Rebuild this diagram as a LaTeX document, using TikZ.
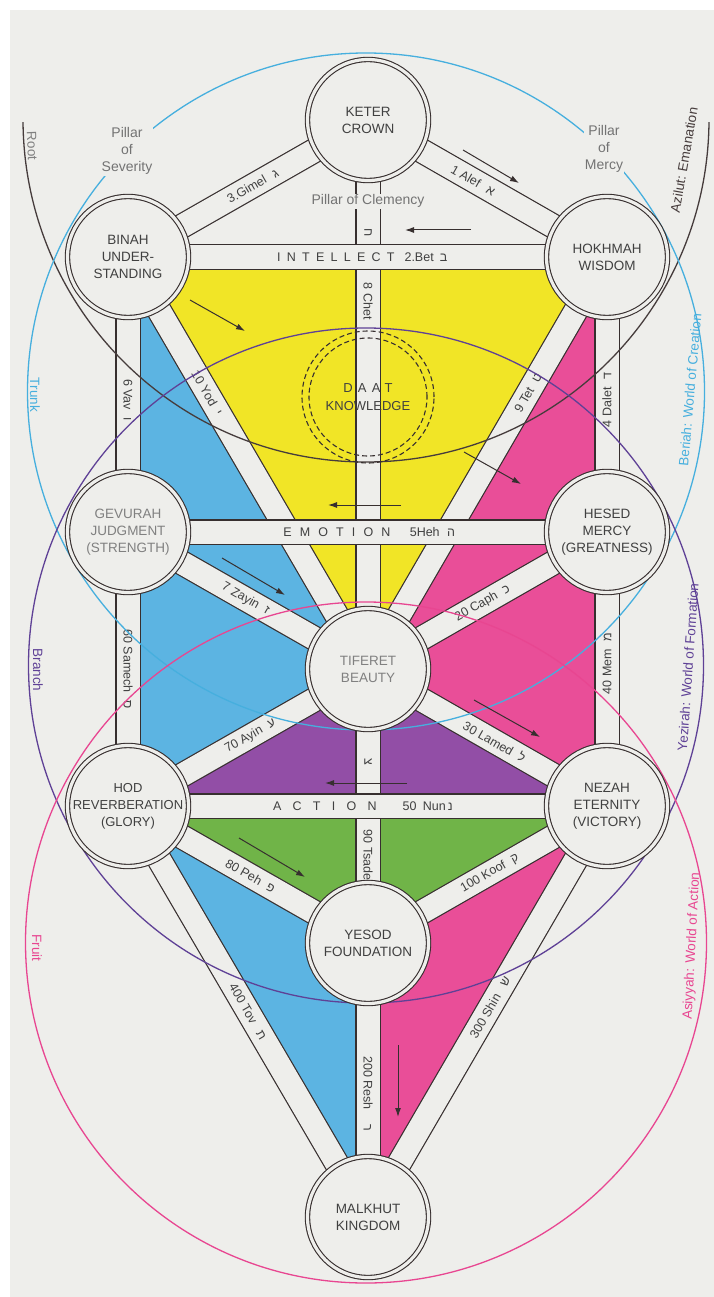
\documentclass[tikz,border=0pt]{standalone}
\usepackage{fontspec}
\setmainfont{Liberation Sans}
\usetikzlibrary{arrows.meta}
\TeXXeTstate=1
\definecolor{treeink}{RGB}{55,47,47}
\definecolor{treepaper}{RGB}{238,238,235}
\definecolor{treeyellow}{RGB}{241,229,38}
\definecolor{treeblue}{RGB}{92,180,226}
\definecolor{treepink}{RGB}{233,78,152}
\definecolor{treepurple}{RGB}{146,78,166}
\definecolor{treegreen}{RGB}{112,180,72}
\definecolor{worldroot}{RGB}{70,60,60}
\definecolor{worldblue}{RGB}{70,175,222}
\definecolor{worldpurple}{RGB}{95,65,150}
\definecolor{worldpink}{RGB}{232,70,145}
\pgfdeclarelayer{paper}
\pgfdeclarelayer{fills}
\pgfdeclarelayer{paths}
\pgfdeclarelayer{worlds}
\pgfsetlayers{paper,fills,paths,worlds,main}
\newcommand\heb[1]{\beginR#1\endR}
\tikzset{
  sefira/.style={circle,draw=treeink,line width=1.1pt,double=treepaper,double distance=3.2pt,
                 fill=treepaper,minimum size=121pt,inner sep=0pt,align=center,
                 font=\fontsize{13.5}{17}\selectfont,text=black!75},
  daatring/.style={draw=treeink,line width=1.1pt,dash pattern=on 5pt off 3pt},
  channel/.style={draw=treeink,line width=1.2pt,double=treepaper,double distance=23pt},
  chlabel/.style={font=\fontsize{12.5}{14}\selectfont,text=black!75,inner sep=1pt},
  pillar/.style={font=\fontsize{14}{17}\selectfont,text=black!55,align=center,inner sep=1pt},
  world/.style={line width=1.3pt},
  worldlabel/.style={font=\fontsize{13.5}{16}\selectfont},
  flowarr/.style={-{Latex[length=9pt,width=6pt]},line width=1pt,draw=treeink},
}
\begin{document}
\begin{tikzpicture}[x=1pt,y=-1pt]
\useasboundingbox (0,0) rectangle (714,1297);
\begin{pgfonlayer}{paper}
\fill[white] (0,0) rectangle (714,1297);
\fill[treepaper] (10,10) rectangle (714,1297);
\end{pgfonlayer}
% --- sefirot ---
\node[sefira] (keter) at (368,120) {KETER\\CROWN};
\node[sefira] (hokhmah) at (607,257) {HOKHMAH\\WISDOM};
\node[sefira] (binah) at (128,257) {BINAH\\UNDER-\\STANDING};
\node[sefira] (hesed) at (607,532) {HESED\\MERCY\\(GREATNESS)};
\node[sefira,text=black!50] (gevurah) at (128,532) {GEVURAH\\JUDGMENT\\(STRENGTH)};
\node[sefira,text=black!50] (tiferet) at (368,669) {TIFERET\\BEAUTY};
\node[sefira] (nezah) at (607,806) {NEZAH\\ETERNITY\\(VICTORY)};
\node[sefira,font=\fontsize{13}{17}\selectfont] (hod) at (128,806) {HOD\\REVERBERATION\\(GLORY)};
\node[sefira] (yesod) at (368,943) {YESOD\\FOUNDATION};
\node[sefira] (malkhut) at (368,1217) {MALKHUT\\KINGDOM};
\node[circle,daatring,minimum size=132pt,inner sep=0pt,align=center,
      font=\fontsize{13}{18}\selectfont,text=black!75] (daat) at (368,397)
 {{\addfontfeature{LetterSpace=40}DAAT}\\KNOWLEDGE};
\draw[daatring] (daat.center) circle[radius=59pt];
% pillars
\node[pillar,fill=treepaper] (severity) at (127,151) {Pillar\\of\\Severity};
\node[pillar,fill=treepaper] (mercy) at (604,149) {Pillar\\of\\Mercy};
% colour fields
\begin{pgfonlayer}{fills}
\fill[treeyellow] (binah.center) -- (hokhmah.center) -- (tiferet.center) -- cycle;
\fill[treeblue] (binah.center) -- (tiferet.center) -- (hod.center) -- cycle;
\fill[treepink] (hokhmah.center) -- (tiferet.center) -- (nezah.center) -- cycle;
\fill[treepurple] (tiferet.center) -- (hod.center) -- (nezah.center) -- cycle;
\fill[treegreen] (hod.center) -- (nezah.center) -- (yesod.center) -- cycle;
\fill[treeblue] (hod.center) -- (yesod.center) -- (malkhut.center) -- cycle;
\fill[treepink] (nezah.center) -- (yesod.center) -- (malkhut.center) -- cycle;
\end{pgfonlayer}
% 22 paths
\begin{pgfonlayer}{paths}
\draw[channel] (keter.center) -- node[chlabel,sloped,pos=.44]{1 Alef\hspace{.7em}\heb{א}} (hokhmah.center);
\draw[channel] (binah.center) -- node[chlabel,sloped,pos=.52]{3.Gimel\hspace{.7em}\heb{ג}} (keter.center);
\draw[channel] (keter.center) -- node[pillar,fill=treepaper,pos=.148]{Pillar of Clemency}
  node[chlabel,pos=.206,rotate=-90]{\heb{ח}} node[chlabel,pos=.33,rotate=-90]{8 Chet} (tiferet.center);
\draw[channel] (hokhmah.center) -- node[chlabel,pos=.52,rotate=90]{4 Dalet\hspace{.6em}\heb{ד}} (hesed.center);
\draw[channel] (binah.center) -- node[chlabel,pos=.52,rotate=-90]{6 Vav\hspace{.6em}\heb{ו}} (gevurah.center);
\draw[channel] (gevurah.center) -- node[chlabel,sloped,pos=.49]{7 Zayin\hspace{.6em}\heb{ז}} (tiferet.center);
\draw[channel] (tiferet.center) -- node[chlabel,sloped,pos=.67]{9 Tet\hspace{.6em}\heb{ט}} (hokhmah.center);
\draw[channel] (binah.center) -- node[chlabel,sloped,pos=.33]{10 Yod\hspace{.6em}\heb{י}} (tiferet.center);
\draw[channel] (tiferet.center) -- node[chlabel,sloped,pos=.48]{20 Caph\hspace{.6em}\heb{כ}} (hesed.center);
\draw[channel] (tiferet.center) -- node[chlabel,sloped,pos=.53]{30 Lamed\hspace{.6em}\heb{ל}} (nezah.center);
\draw[channel] (hesed.center) -- node[chlabel,pos=.48,rotate=90]{40 Mem\hspace{.6em}\heb{מ}} (nezah.center);
\draw[channel] (gevurah.center) -- node[chlabel,pos=.5,rotate=-90]{60 Samech\hspace{.6em}\heb{ס}} (hod.center);
\draw[channel] (hod.center) -- node[chlabel,sloped,pos=.51]{70 Ayin\hspace{.6em}\heb{ע}} (tiferet.center);
\draw[channel] (hod.center) -- node[chlabel,sloped,pos=.51]{80 Peh\hspace{.6em}\heb{פ}} (yesod.center);
\draw[channel] (tiferet.center) -- node[chlabel,pos=.34,rotate=-90]{\heb{צ}}
  node[chlabel,pos=.68,rotate=-90]{90 Tsade} (yesod.center);
\draw[channel] (yesod.center) -- node[chlabel,sloped,pos=.51]{100 Koof\hspace{.6em}\heb{ק}} (nezah.center);
\draw[channel] (yesod.center) -- node[chlabel,pos=.55,rotate=-90]{200 Resh\hspace{1.2em}\heb{ר}} (malkhut.center);
\draw[channel] (malkhut.center) -- node[chlabel,sloped,pos=.51]{300 Shin\hspace{.8em}\heb{ש}} (nezah.center);
\draw[channel] (hod.center) -- node[chlabel,sloped,pos=.5]{400 Tov\hspace{.8em}\heb{ת}} (malkhut.center);
% horizontal paths on top
\draw[channel] (binah.center) -- node[chlabel,pos=.434]{\addfontfeature{LetterSpace=50}INTELLECT}
  node[chlabel,pos=.574,anchor=west]{2.Bet\hspace{.5em}\heb{ב}} (hokhmah.center);
\draw[channel] (gevurah.center) -- node[chlabel,pos=.436]{\addfontfeature{LetterSpace=65}EMOTION}
  node[chlabel,pos=.585,anchor=west]{5Heh\hspace{.6em}\heb{ה}} (hesed.center);
\draw[channel] (hod.center) -- node[chlabel,pos=.411]{\addfontfeature{LetterSpace=90}ACTION}
  node[chlabel,pos=.57,anchor=west]{50\hspace{.5em}Nun\,\heb{נ}} (nezah.center);
\end{pgfonlayer}
% four worlds
\begin{pgfonlayer}{worlds}
\begin{scope}
\clip (0,123) rectangle (714,1297);
\draw[world,draw=worldroot] (366,119) circle[radius=343];
\end{scope}
\draw[world,draw=worldblue] (366,391.5) circle[radius=338.5];
\draw[world,draw=worldpurple] (366,665.5) circle[radius=337.5];
\draw[world,draw=worldpink] (366,942.5) circle[radius=340.5];
\node[worldlabel,text=black!50,rotate=-88] (root) at (32,146) {Root};
\node[worldlabel,text=worldblue,rotate=-90] (trunk) at (35,395) {Trunk};
\node[worldlabel,text=worldpurple,rotate=-90] (branch) at (38,670) {Branch};
\node[worldlabel,text=worldpink,rotate=-90] (fruit) at (37,948) {Fruit};
\node[worldlabel,text=worldroot,rotate=80] (azilut) at (684,160) {Azilut: Emanation};
\node[worldlabel,text=worldblue,rotate=85] (beriah) at (690,390) {Beriah: World of Creation};
\node[worldlabel,text=worldpurple,rotate=86] (yezirah) at (688,667) {Yezirah: World of Formation};
\node[worldlabel,text=worldpink,rotate=87] (asiyyah) at (692,946) {Asiyyah: World of Action};
\end{pgfonlayer}
% flow arrows
\foreach \i/\xa/\ya/\xb/\yb in {1/463/150/519/183, 2/471/230/405/230, 3/190/300/245/331,
    4/464/452/521/484, 5/401/505/328/505, 6/222/558/285/595, 7/474/700/540/737,
    8/407/783/325/783, 9/239/838/305/877, 10/398/1045/398/1117}{
  \coordinate (flow\i a) at (\xa,\ya);
  \coordinate (flow\i b) at (\xb,\yb);
  \draw[flowarr] (flow\i a) -- (flow\i b);
}
\end{tikzpicture}
\end{document}
